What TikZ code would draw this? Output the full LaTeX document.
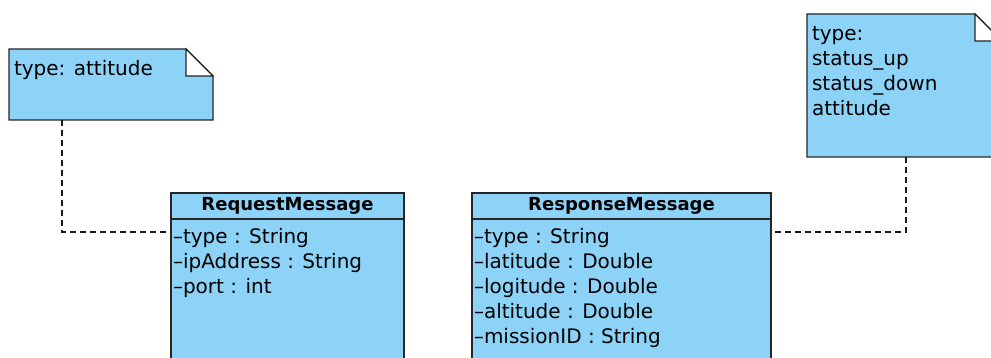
\documentclass[tikz,border=0pt]{standalone}
\usepackage{fontspec}
\setmainfont{DejaVu Sans}
\usetikzlibrary{positioning,backgrounds}
\definecolor{umlblue}{RGB}{141,211,247}
\newcommand{\attr}[1]{\textendash#1}

\begin{document}
\begin{tikzpicture}[x=1pt, y=-1pt,
    every node/.style={outer sep=0pt},
    classhead/.style={draw=black!85, fill=umlblue, line width=1.2pt,
                      minimum height=26pt, inner sep=0pt,
                      font=\fontsize{18}{22}\selectfont\bfseries},
    classbody/.style={draw=black!85, fill=umlblue, line width=1.2pt,
                      inner xsep=2pt, inner ysep=7pt, align=left,
                      font=\fontsize{20}{25}\selectfont},
    notebox/.style={inner xsep=5pt, inner ysep=9pt, align=left,
                    font=\fontsize{20}{25}\selectfont},
    noteline/.style={draw=black!85, line width=1.2pt, line join=miter},
    link/.style={draw=black!90, line width=1.2pt, dash pattern=on 6pt off 4pt}
  ]
  \useasboundingbox (0,0) rectangle (991,358);

  % classes
  \node[classhead, minimum width=233pt, anchor=north west] (req) at (171,193) {RequestMessage};
  \node[classbody, anchor=north west] (reqbody) at (req.south west) {%
    \parbox[t][150pt][t]{229pt}{\strut\attr{type : String}\\
      \attr{ipAddress : String}\\
      \attr{port : int}}};

  \node[classhead, minimum width=299pt, anchor=north west] (resp) at (472,193) {ResponseMessage};
  \node[classbody, anchor=north west] (respbody) at (resp.south west) {%
    \parbox[t][150pt][t]{295pt}{\strut\attr{type : String}\\
      \attr{latitude : Double}\\
      \attr{logitude : Double}\\
      \attr{altitude : Double}\\
      \attr{missionID : String}}};

  % notes
  \node[notebox, anchor=north west] (reqnote) at (9,49) {%
    \parbox[t][53pt][t]{194pt}{\strut type: attitude}};
  \node[notebox, anchor=north west] (respnote) at (807,14) {%
    \parbox[t][125pt][t]{185pt}{\strut type:\\ status\_up\\ status\_down\\ attitude}};

  \begin{scope}[on background layer]
    \foreach \n in {reqnote,respnote} {
      \draw[noteline, fill=umlblue] (\n.north west) -- ([xshift=-27pt]\n.north east)
        -- ([yshift=-27pt]\n.north east) -- (\n.south east) -- (\n.south west) -- cycle;
      \draw[noteline, fill=white] ([xshift=-27pt]\n.north east)
        -- ([xshift=-27pt,yshift=-27pt]\n.north east) -- ([yshift=-27pt]\n.north east) -- cycle;
    }
  \end{scope}

  \draw[link] ([xshift=53pt]reqnote.south west) |- ([yshift=-13pt]reqbody.north west);
  \draw[link] ([xshift=99pt]respnote.south west) |- ([yshift=-13pt]respbody.north east);
\end{tikzpicture}
\end{document}
